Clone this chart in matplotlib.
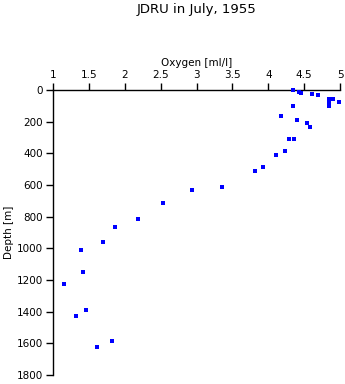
import matplotlib
matplotlib.use("Agg")
import matplotlib.pyplot as plt

# oxygen [ml/l] and depth [m]
oxygen = [4.34, 4.43, 4.45, 4.61, 4.70, 4.84, 4.90, 4.84, 4.99, 4.84, 4.35,
          4.18, 4.40, 4.54, 4.58, 4.29, 4.36, 4.24, 4.11, 3.93, 3.82, 3.35,
          2.94, 2.54, 2.18, 1.86, 1.70, 1.39, 1.42, 1.15, 1.46, 1.32, 1.82,
          1.62]
depth = [2, 15, 17, 27, 34, 55, 55, 78, 78, 101, 101,
         164, 191, 210, 232, 311, 311, 387, 412, 484, 509, 615,
         633, 716, 817, 867, 962, 1012, 1148, 1227, 1392, 1426, 1587,
         1621]

xticks = [1, 1.5, 2, 2.5, 3, 3.5, 4, 4.5, 5]
xticklabels = ["1", "1.5", "2", "2.5", "3", "3.5", "4", "4.5", "5"]
yticks = [0, 200, 400, 600, 800, 1000, 1200, 1400, 1600, 1800]

plt.rcParams['font.family'] = ['DejaVu Sans']

fig = plt.figure(figsize=(3.45, 3.84), dpi=100)
ax = fig.add_axes([53 / 345, 1 - 375 / 384, 287 / 345, 285 / 384])

ax.plot(oxygen, depth, linestyle='none', marker='s', markersize=2.3,
        markeredgewidth=0, color='#0000ff', antialiased=False,
        clip_on=False, zorder=5)

ax.set_xlim(1, 5)
ax.set_ylim(1800, 0)
ax.xaxis.tick_top()
ax.xaxis.set_label_position('top')
ax.set_xticks(xticks)
ax.set_xticklabels(xticklabels)
ax.set_yticks(yticks)
ax.tick_params(labelsize=7.5, length=5, width=1, pad=2)
ax.spines['right'].set_visible(False)
ax.spines['bottom'].set_visible(False)
ax.spines['top'].set_linewidth(1)
ax.spines['left'].set_linewidth(1)

ax.set_xlabel("Oxygen [ml/l]", fontsize=7.5, labelpad=3)
ax.set_ylabel("Depth [m]", fontsize=7.5, labelpad=2)
fig.text(197 / 345, 1 - 10 / 384, "JDRU in July, 1955", fontsize=9.5,
         ha='center', va='center')

fig.savefig("out.png", dpi=100)
